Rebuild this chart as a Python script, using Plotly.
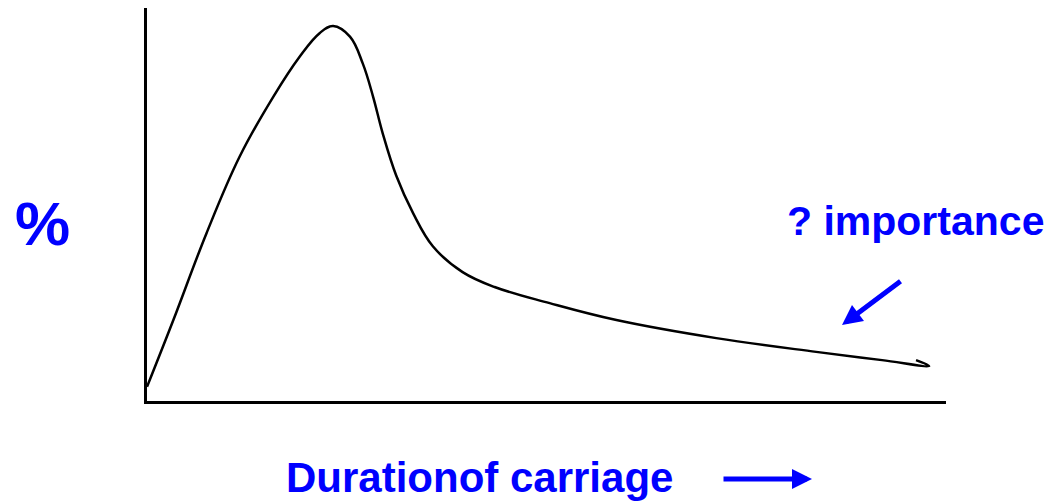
import plotly.graph_objects as go

# Curve (duration of carriage vs %)
duration = [0, 3.3, 7.45, 11.6, 15.8, 19.1, 21.6, 23.3, 25.4, 27.0, 28.3, 29.5, 31.2,
            33.3, 35.8, 39.5, 43.5, 50.4, 58.75, 71.25, 83.75, 92.0, 97.9, 96.25]
percent = [3.6, 20.6, 42.7, 62.2, 77.4, 87.6, 93.6, 95.4, 92.7, 85.9, 77.4, 68.1, 57.3,
           47.8, 39.3, 32.8, 29.0, 24.9, 20.6, 16.0, 12.5, 10.4, 8.9, 10.4]

y_label = "%"
x_label = "Durationof carriage"
note_label = "? importance"

BLUE = "#0000ff"
FONT = "Liberation Sans, Arial, sans-serif"

fig = go.Figure()
fig.add_trace(go.Scatter(
    x=duration, y=percent, mode="lines",
    line=dict(color="black", width=2.5, shape="spline", smoothing=1.1),
    hoverinfo="skip", showlegend=False,
))

W, H = 1062, 502
L, R, T, B = 147, 116, 8, 101
pw, ph = W - L - R, H - T - B


def px(xp):
    return (xp - L) / pw


def py(yp):
    return (H - B - yp) / ph


annotations = [
    dict(text=f"<b>{y_label}</b>", x=px(42), y=py(223), xref="paper", yref="paper",
         showarrow=False, font=dict(size=62, color=BLUE, family=FONT),
         xanchor="center", yanchor="middle"),
    dict(text=f"<b>{note_label}</b>", x=px(915), y=py(221), xref="paper", yref="paper",
         showarrow=False, font=dict(size=41, color=BLUE, family=FONT),
         xanchor="center", yanchor="middle"),
    dict(text=f"<b>{x_label}</b>", x=px(479), y=py(477), xref="paper", yref="paper",
         showarrow=False, font=dict(size=42, color=BLUE, family=FONT),
         xanchor="center", yanchor="middle"),
    # arrow pointing at the tail of the curve
    dict(text="", x=px(842), y=py(325), xref="paper", yref="paper",
         showarrow=True, ax=60, ay=-45, arrowhead=2, arrowwidth=5, arrowsize=0.8,
         arrowcolor=BLUE),
    # arrow next to the x label
    dict(text="", x=px(812), y=py(479), xref="paper", yref="paper",
         showarrow=True, ax=-90, ay=0, arrowhead=2, arrowwidth=5, arrowsize=0.8,
         arrowcolor=BLUE),
]

fig.update_layout(
    width=W, height=H,
    margin=dict(l=L, r=R, t=T, b=B),
    paper_bgcolor="white", plot_bgcolor="white",
    annotations=annotations,
    xaxis=dict(range=[0, 100], showline=True, linecolor="black", linewidth=3,
               showgrid=False, zeroline=False, showticklabels=False, ticks=""),
    yaxis=dict(range=[0, 100], showline=True, linecolor="black", linewidth=3,
               showgrid=False, zeroline=False, showticklabels=False, ticks=""),
)

fig.write_html("out.html", config={"displayModeBar": False},
               post_script="document.body.style.margin='0';")
